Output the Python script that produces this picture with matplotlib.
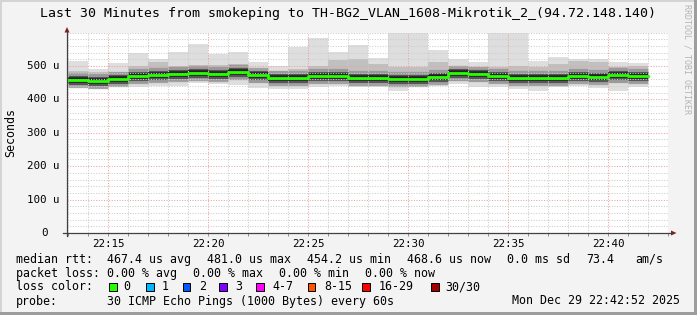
import numpy as np
import pandas as pd
import matplotlib
matplotlib.use("Agg")
import matplotlib.pyplot as plt
import matplotlib.dates as mdates
from matplotlib.lines import Line2D
from matplotlib.patches import Polygon, Rectangle
from matplotlib.ticker import MultipleLocator, NullFormatter

# one smoke column per minute, 22:13 .. 22:41
times = pd.date_range("2025-12-29 22:13", periods=29, freq="min")

# values in microseconds
median = [458, 454.2, 461, 469, 472, 477, 478, 475, 481.0, 472, 463, 463, 469, 471, 465,
          463, 460, 460, 467, 478, 475, 469, 464, 463, 465, 469, 466, 472, 468.6]
smoke_max = [514, 490, 510, 538, 520, 543, 567, 535, 541, 511, 499, 556, 584, 543, 563,
             525, 600, 600, 549, 522, 511, 600, 600, 516, 528, 521, 521, 511, 508]
smoke_min = [438, 430, 436, 436, 440, 440, 450, 446, 444, 435, 431, 431, 438, 440, 437,
             436, 424, 438, 441, 446, 437, 438, 432, 425, 436, 441, 434, 425, 438]
band_hi = [486, 481, 481, 499, 511, 501, 503, 503, 506, 484, 484, 491, 501, 518, 521,
           506, 496, 496, 511, 491, 491, 496, 501, 496, 506, 516, 511, 496, 501]
band_lo = [445, 440, 445, 448, 452, 455, 462, 455, 458, 448, 446, 446, 450, 452, 448,
           450, 442, 445, 450, 455, 452, 448, 445, 442, 446, 452, 448, 450, 450]

y_ticks = [0, 100, 200, 300, 400, 500]
y_labels = ["0", "100 u", "200 u", "300 u", "400 u", "500 u"]

loss_labels = ["0", "1", "2", "3", "4-7", "8-15", "16-29", "30/30"]
loss_colors = ["#26ff00", "#00b8ff", "#0059ff", "#7e00ff", "#ff00ff", "#ff5500", "#ff0000", "#a10000"]

title = "Last 30 Minutes from smokeping to TH-BG2_VLAN_1608-Mikrotik_2_(94.72.148.140)"

W, H = 697, 315
MONO = "DejaVu Sans Mono"


def fx(x):
    return x / W


def fy(y):
    return 1 - y / H


fig = plt.figure(figsize=(W / 100, H / 100), dpi=100, facecolor="#f3f3f3")
ax = fig.add_axes([fx(67), fy(233), (668 - 67) / W, (233 - 32.5) / H])
ax.set_facecolor("white")

x0 = mdates.date2num(times)
step = 1 / 1440.0
x1 = x0 + step

# smoke
ax.bar(x0, np.subtract(smoke_max, smoke_min), bottom=smoke_min, width=step,
       align="edge", color="#dedede", linewidth=0, zorder=1)
ax.bar(x0, np.subtract(band_hi, band_lo), bottom=band_lo, width=step,
       align="edge", color="#c0c0c0", linewidth=0, zorder=1.1)
ax.hlines(median, x0, x1, colors="#8e8e8e", linewidth=11, alpha=0.75, zorder=1.2)
ax.hlines(median, x0, x1, colors="#555555", linewidth=6.5, zorder=1.3)
ax.hlines(median, x0, x1, colors="#222222", linewidth=4, zorder=1.4)

# median rtt, green = no loss
ax.step(np.append(x0, x1[-1]), np.append(median, median[-1]), where="post",
        color="#26ff00", linewidth=2.0, zorder=4)

ax.set_xlim(pd.Timestamp("2025-12-29 22:12:56"), pd.Timestamp("2025-12-29 22:43:00"))
ax.set_ylim(0, 600)

ax.xaxis.set_major_locator(mdates.MinuteLocator(byminute=range(0, 60, 5)))
ax.xaxis.set_minor_locator(mdates.MinuteLocator())
ax.xaxis.set_major_formatter(mdates.DateFormatter("%H:%M"))
ax.xaxis.set_minor_formatter(NullFormatter())
ax.set_yticks(y_ticks)
ax.yaxis.set_minor_locator(MultipleLocator(20))

ax.set_axisbelow(False)
ax.grid(which="minor", color="#cccccc", linestyle=(0, (1, 1.5)), linewidth=0.75)
ax.grid(which="major", color="#f0a0a0", linestyle=(0, (1, 1.5)), linewidth=0.75)

ax.tick_params(axis="x", which="both", length=2, width=0.7, color="#909090",
               pad=2.5, labelsize=7.8)
ax.tick_params(axis="y", which="both", length=0, labelleft=False)
for lab in ax.get_xticklabels():
    lab.set_fontfamily(MONO)

for side in ax.spines:
    ax.spines[side].set_visible(False)

for val, lab in zip(y_ticks, y_labels):
    xr = 59.5 if lab != "0" else 48
    ax.text((xr - 67) / 601, val, lab, transform=ax.get_yaxis_transform(),
            ha="right", va="center", fontsize=7.8, family=MONO, color="#000000")

# axes with arrow heads
fig.add_artist(Line2D([fx(67), fx(67)], [fy(236), fy(30)], color="#404040", lw=0.9))
fig.add_artist(Line2D([fx(63), fx(673)], [fy(233), fy(233)], color="#404040", lw=0.9))
fig.add_artist(Polygon([[fx(64.5), fy(32.5)], [fx(69.5), fy(32.5)], [fx(67), fy(27)]],
                       closed=True, color="#8b1a1a", lw=0))
fig.add_artist(Polygon([[fx(671), fy(230.5)], [fx(671), fy(235.5)], [fx(676.5), fy(233)]],
                       closed=True, color="#8b1a1a", lw=0))

# frame
fig.add_artist(Rectangle((0, fy(315)), fx(2), 1, color="#d4d4d4", lw=0))
fig.add_artist(Rectangle((0, fy(2)), 1, fx(2) * W / H, color="#d4d4d4", lw=0))
fig.add_artist(Rectangle((fx(694), 0), fx(3), 1, color="#9d9d9d", lw=0))
fig.add_artist(Rectangle((0, 0), 1, 3 / H, color="#9d9d9d", lw=0))

fig.text(fx(348), fy(13.3), title, ha="center", va="center", fontsize=9.5, family=MONO)
fig.text(fx(11), fy(132.8), "Seconds", ha="center", va="center", rotation=90,
         fontsize=8.4, family=MONO)
fig.text(fx(687.5), fy(4), "RRDTOOL / TOBI OETIKER", ha="center", va="top", rotation=270,
         fontsize=6, family=MONO, color="#b4b4b4")

# legend
fs = 8.4
row1 = [(16, "median rtt:"), (107.3, "467.4 us avg"), (207.3, "481.0 us max"),
        (307.3, "454.2 us min"), (407.3, "468.6 us now"), (506.7, "0.0 ms sd"),
        (586.7, "73.4"), (635, "am/s")]
for x, s in row1:
    fig.text(fx(x), fy(259.3), s, ha="left", va="center", fontsize=fs, family=MONO)

row2 = [(16, "packet loss:"), (107.3, "0.00 % avg"), (193.3, "0.00 % max"),
        (279.3, "0.00 % min"), (365, "0.00 % now")]
for x, s in row2:
    fig.text(fx(x), fy(273.3), s, ha="left", va="center", fontsize=fs, family=MONO)

fig.text(fx(16), fy(286.7), "loss color:", ha="left", va="center", fontsize=fs, family=MONO)
box_x = [109, 146, 182.5, 219, 256, 307.5, 362, 431]
lab_x = [123.5, 162, 199, 235.7, 272.5, 324, 379, 445.5]
for bx, lx, lab, col in zip(box_x, lab_x, loss_labels, loss_colors):
    fig.add_artist(Rectangle((fx(bx), fy(290.5)), 7.5 / W, 7.5 / H, facecolor=col,
                             edgecolor="black", lw=0.7))
    fig.text(fx(lx), fy(286.7), lab, ha="left", va="center", fontsize=fs, family=MONO)

fig.text(fx(16), fy(301), "probe:", ha="left", va="center", fontsize=fs, family=MONO)
fig.text(fx(107.3), fy(301), "30 ICMP Echo Pings (1000 Bytes) every 60s", ha="left",
         va="center", fontsize=fs, family=MONO)
fig.text(fx(680), fy(301), "Mon Dec 29 22:42:52 2025", ha="right", va="center",
         fontsize=fs, family=MONO)

fig.savefig("out.png", dpi=100, facecolor=fig.get_facecolor())
